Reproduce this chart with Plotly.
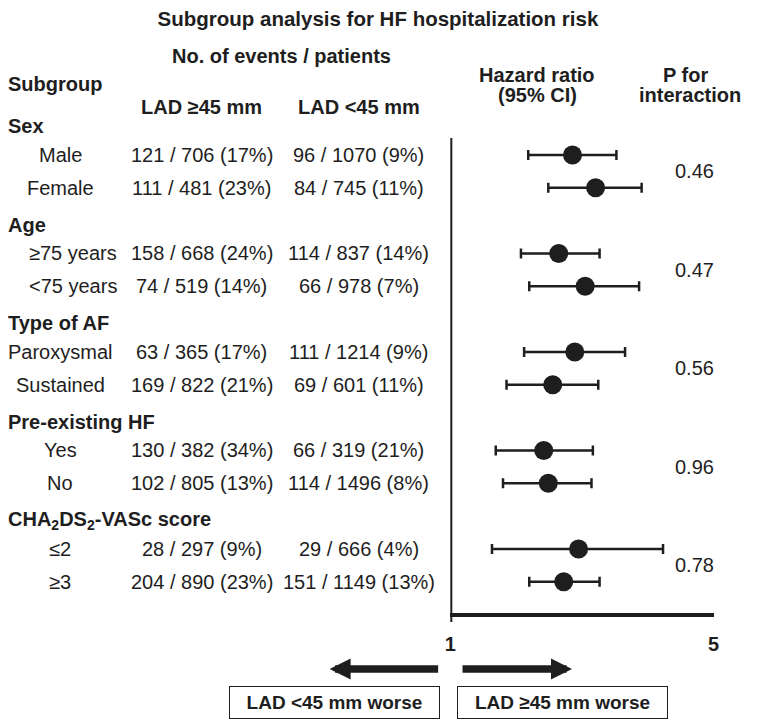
import plotly.graph_objects as go

# The page puts the figure 8px in from the top-left corner, so the figure is
# sized to fill the rest of the 760x721 window and positions are given in
# window pixels, then shifted.
PAGE_OFF = 8
W, H = 760 - PAGE_OFF, 721 - PAGE_OFF

# Data
groups = ['Sex', 'Age', 'Type of AF', 'Pre-existing HF',
          'CHA<sub>2</sub>DS<sub>2</sub>-VASc score']
subgroups = ['Male', 'Female', '≥75 years', '<75 years', 'Paroxysmal',
             'Sustained', 'Yes', 'No', '≤2', '≥3']

events_big = [121, 111, 158, 74, 63, 169, 130, 102, 28, 204]
patients_big = [706, 481, 668, 519, 365, 822, 382, 805, 297, 890]
pct_big = [17, 23, 24, 14, 17, 21, 34, 13, 9, 23]

events_small = [96, 84, 114, 66, 111, 69, 66, 114, 29, 151]
patients_small = [1070, 745, 837, 978, 1214, 601, 319, 1496, 666, 1149]
pct_small = [9, 11, 14, 7, 9, 11, 21, 8, 4, 13]

hr = [2.11, 2.43, 1.94, 2.28, 2.14, 1.87, 1.77, 1.82, 2.19, 2.00]
hr_lo = [1.61, 1.82, 1.54, 1.62, 1.57, 1.41, 1.32, 1.38, 1.29, 1.62]
hr_hi = [2.76, 3.22, 2.49, 3.17, 2.91, 2.47, 2.39, 2.37, 3.67, 2.49]

p_interaction = ['0.46', '0.47', '0.56', '0.96', '0.78']

axis_ticks = [1, 5]

# Styling
FONT = 'Liberation Sans, Arial, sans-serif'
INK = '#1e1e1e'


def px(x):
    # slight horizontal stretch, the render came out a touch narrow
    return (422 + (x - 422) * 1.0136 - PAGE_OFF) / W


def py(y):
    return 1 - (y - PAGE_OFF) / H


# row slots: two subgroup rows per group, one slot gap between groups
row_y = [3 * (k // 2) + (k % 2) + 1 for k in range(len(subgroups))]
header_y = [3 * g + 0.13 for g in range(len(groups))]
p_y = [3 * g + 1.5 for g in range(len(groups))]

# slot 1 sits at window y=155, one slot is ~32.8px
SLOT_PX = 32.83
y_top = 1 + (PAGE_OFF - 155) / SLOT_PX
y_bot = 1 + (721 - 155) / SLOT_PX

# a couple of labels sit off-centre in the original
label_x = {'≥75 years': 73, '<75 years': 73}

fig = go.Figure()

fig.add_trace(go.Scatter(
    x=hr, y=row_y,
    mode='markers',
    marker=dict(size=19, color=INK),
    error_x=dict(type='data',
                 array=[h - m for h, m in zip(hr_hi, hr)],
                 arrayminus=[m - l for m, l in zip(hr, hr_lo)],
                 color=INK, thickness=2.5, width=5),
    showlegend=False,
    hoverinfo='x',
))

ann = []

# header rows
ann.append(dict(text='<b>Subgroup</b>', x=px(6), y=py(84), xanchor='left'))
ann.append(dict(text='<b>No. of events / patients</b>', x=px(282), y=py(56)))
ann.append(dict(text='<b>LAD ≥45 mm</b>', x=px(202), y=py(107)))
ann.append(dict(text='<b>LAD <45 mm</b>', x=px(359), y=py(107)))
ann.append(dict(text='<b>Hazard ratio</b>', x=px(538), y=py(75)))
ann.append(dict(text='<b>(95% CI)</b>', x=px(538), y=py(95)))
ann.append(dict(text='<b>P for</b>', x=px(687), y=py(75)))
ann.append(dict(text='<b>interaction</b>', x=px(691), y=py(95)))
for a in ann:
    a.update(xref='paper', yref='paper', yanchor='middle')
    a.setdefault('xanchor', 'center')

# group headings (flush with the left edge) and p values
for g, name in enumerate(groups):
    ann.append(dict(text='<b>%s</b>' % name, xref='paper', yref='y',
                    x=0, xshift=-8, y=header_y[g], xanchor='left', yanchor='middle'))
    ann.append(dict(text=p_interaction[g], xref='paper', yref='y',
                    x=px(696), y=p_y[g], xanchor='center', yanchor='middle'))

# subgroup rows
for k, name in enumerate(subgroups):
    ann.append(dict(text=name, xref='paper', yref='y',
                    x=px(label_x.get(name, 60)), y=row_y[k],
                    xanchor='center', yanchor='middle'))
    ann.append(dict(text='%d / %d (%d%%)' % (events_big[k], patients_big[k], pct_big[k]),
                    xref='paper', yref='y', x=px(202), y=row_y[k],
                    xanchor='center', yanchor='middle'))
    ann.append(dict(text='%d / %d (%d%%)' % (events_small[k], patients_small[k], pct_small[k]),
                    xref='paper', yref='y', x=px(359), y=row_y[k],
                    xanchor='center', yanchor='middle'))

# direction arrows
ann.append(dict(x=px(330), y=py(669), ax=110, ay=0, xref='paper', yref='paper',
                showarrow=True, arrowhead=2, arrowsize=0.56, arrowwidth=7.5,
                arrowcolor=INK, text=''))
ann.append(dict(x=px(573), y=py(669), ax=-111, ay=0, xref='paper', yref='paper',
                showarrow=True, arrowhead=2, arrowsize=0.56, arrowwidth=7.5,
                arrowcolor=INK, text=''))

# boxed captions
for label, cx in [('LAD <45 mm worse', 334.5), ('LAD ≥45 mm worse', 563)]:
    ann.append(dict(text='<b>%s</b>' % label, xref='paper', yref='paper',
                    x=px(cx), y=py(702), xanchor='center', yanchor='middle',
                    width=209, height=31, borderpad=0, borderwidth=1,
                    bordercolor=INK, font=dict(size=19)))

for a in ann:
    a.setdefault('showarrow', False)

fig.update_layout(
    width=W, height=H,
    margin=dict(l=0, r=0, t=0, b=0),
    paper_bgcolor='white',
    plot_bgcolor='white',
    font=dict(family=FONT, size=20, color=INK),
    title=dict(text='<b>Subgroup analysis for HF hospitalization risk</b>',
               x=px(378.5), xanchor='center', y=py(19), yanchor='middle',
               font=dict(size=20.5)),
    annotations=ann,
    shapes=[dict(type='line', xref='x', yref='paper', x0=1, x1=1,
                 y0=py(622), y1=py(138), line=dict(color=INK, width=4))],
)

fig.update_xaxes(
    type='log', range=[0, 0.69897],
    domain=[px(451), px(715)],
    anchor='free', position=py(615),
    showgrid=False, zeroline=False,
    showline=True, linewidth=4, linecolor=INK,
    tickvals=axis_ticks, ticktext=['<b>%d</b>' % t for t in axis_ticks],
    ticks='', ticklabelstandoff=10,
    tickfont=dict(size=20),
)
fig.update_yaxes(
    range=[y_bot, y_top],
    domain=[0, 1],
    showgrid=False, zeroline=False, showline=False,
    showticklabels=False,
)

fig.write_html('out.html')
